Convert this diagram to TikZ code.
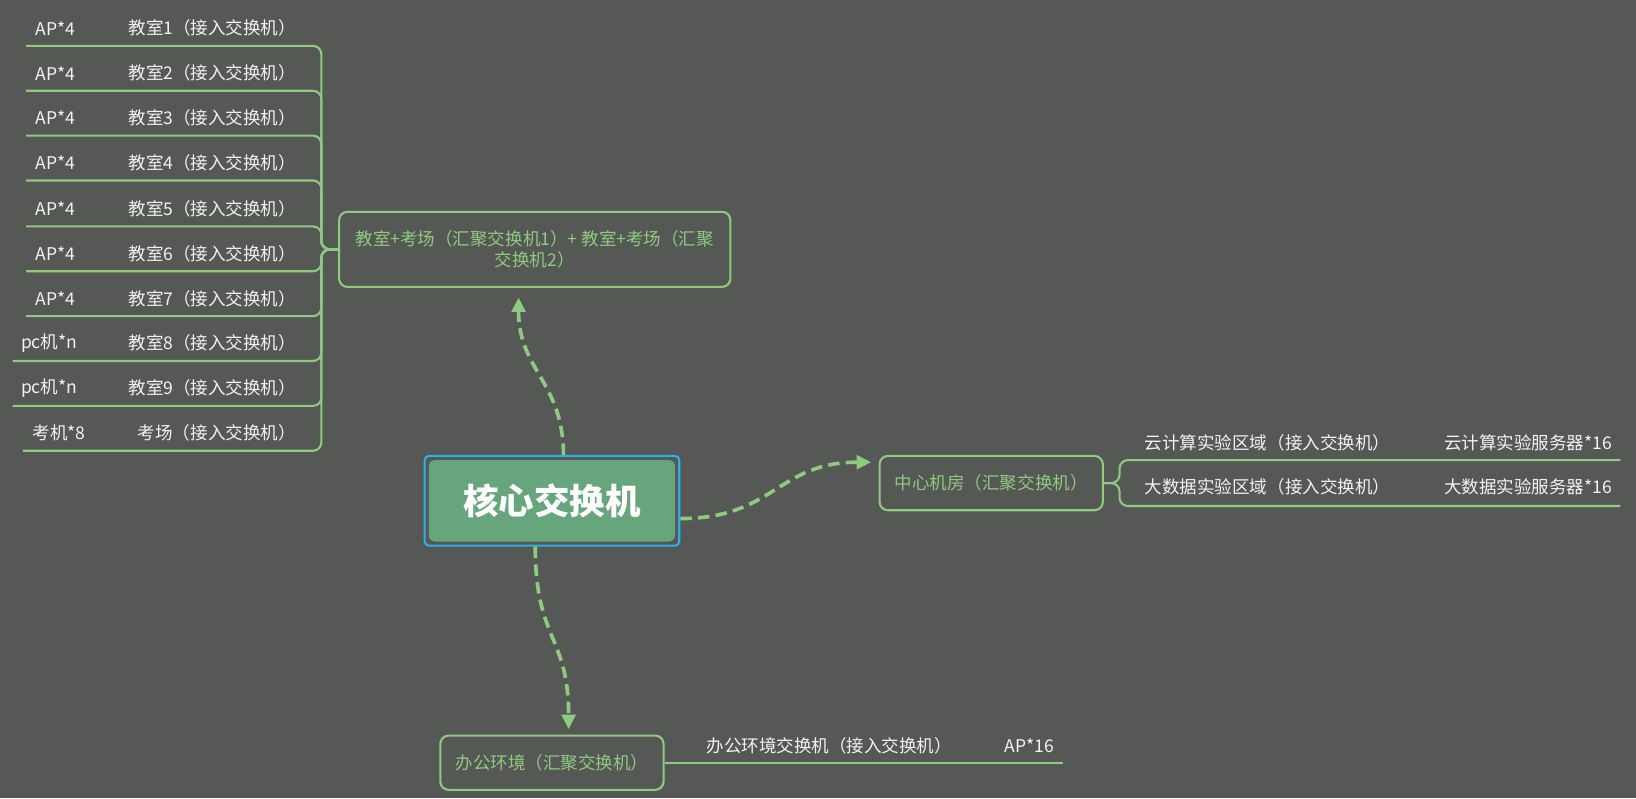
\documentclass[tikz,border=0pt]{standalone}
\usepackage{fontspec}
\setmainfont{Noto Sans CJK SC}
\usetikzlibrary{arrows.meta}
\definecolor{bg}{RGB}{86,88,85}
\definecolor{lg}{RGB}{142,203,128}
\definecolor{wt}{RGB}{242,242,242}
\definecolor{corefill}{RGB}{103,166,124}
\definecolor{coreblue}{RGB}{41,177,236}
\begin{document}
\begin{tikzpicture}[x=1pt,y=-1pt,
  branch/.style={draw=lg, line width=2pt, rounded corners=8pt},
  lbl/.style={anchor=west, inner sep=0pt, text=wt, font=\fontsize{16.8}{19}\selectfont},
  gbox/.style={draw=lg, line width=2pt, rounded corners=8pt, fill=bg, text=lg,
    font=\fontsize{16.8}{21}\selectfont, align=center, inner sep=0pt},
  coresty/.style={draw=coreblue, line width=2pt, rounded corners=4pt, minimum width=244pt,
    minimum height=86pt, inner sep=0pt, text=white, font=\fontsize{34}{36}\selectfont\bfseries},
  dasharrow/.style={draw=lg, line width=3.5pt, dash pattern=on 11pt off 6pt,
    -{Triangle[length=14pt,width=13pt]}}]
\fill[bg] (0,0) rectangle (1568,765);
\useasboundingbox (0,0) rectangle (1568,765);

% left parent box
\node[gbox, minimum width=375pt, minimum height=72pt] (pb) at (512.5,239)
  {教室+考场（汇聚交换机1）+ 教室+考场（汇聚\\交换机2）};
\coordinate (lj) at (308,239);
\foreach \i/\y/\xs/\xa/\a/\b in {
  1/44/25/34/AP*4/教室1（接入交换机）,
  2/87/25/34/AP*4/教室2（接入交换机）,
  3/130/25/34/AP*4/教室3（接入交换机）,
  4/173/25/34/AP*4/教室4（接入交换机）,
  5/217/25/34/AP*4/教室5（接入交换机）,
  6/260/25/34/AP*4/教室6（接入交换机）,
  7/303/25/34/AP*4/教室7（接入交换机）,
  8/346/12/20/pc机*n/教室8（接入交换机）,
  9/389/12/20/pc机*n/教室9（接入交换机）}{
  \coordinate (r\i) at (\xs,\y);
  \draw[branch] (pb.west) -- (lj) |- (r\i);
  \node[lbl] (a\i) at (\xa,\y-17) {\a};
  \node[lbl] (b\i) at (123,\y-17) {\b};
}
\coordinate (r10) at (22,432);
\draw[branch] (pb.west) -- (lj) |- (r10);
\node[lbl] (a10) at (31,415) {考机*8};
\node[lbl] (b10) at (132,415) {考场（接入交换机）};

% core
\fill[corefill, rounded corners=6pt] (411,441) rectangle (647,519);
\node[coresty] (core) at (529,480) {核心交换机};

% centre room
\node[gbox, minimum width=214pt, minimum height=52pt] (cr) at (950,463) {中心机房（汇聚交换机）};
\coordinate (rj) at (1073,463);
\coordinate (c1) at (1553,441);
\coordinate (c2) at (1553,485);
\draw[branch] (cr.east) -- (rj) |- (c1);
\draw[branch] (cr.east) -- (rj) |- (c2);
\node[lbl] (c1a) at (1097,424) {云计算实验区域（接入交换机）};
\node[lbl] (c1b) at (1384,424) {云计算实验服务器*16};
\node[lbl] (c2a) at (1097,467) {大数据实验区域（接入交换机）};
\node[lbl] (c2b) at (1384,467) {大数据实验服务器*16};

% office
\node[gbox, minimum width=214pt, minimum height=52pt] (ob) at (529,731) {办公环境（汇聚交换机）};
\coordinate (o1) at (1019,731);
\draw[branch] (ob.east) -- (o1);
\node[lbl] (o1a) at (677,715) {办公环境交换机（接入交换机）};
\node[lbl] (o1b) at (963,715) {AP*16};

% dashed arrows
\draw[dasharrow] ([xshift=11pt]core.north) .. controls +(0,-70) and +(0,70) .. ([xshift=-15.5pt,yshift=-9pt]pb.south);
\draw[dasharrow] ([yshift=-17pt]core.east) .. controls +(90,0) and +(-90,0) .. ([xshift=-7pt,yshift=20pt]cr.west);
\draw[dasharrow] ([xshift=-16pt]core.south) .. controls +(0,90) and +(0,-90) .. ([xshift=16pt,yshift=5pt]ob.north);
\end{tikzpicture}
\end{document}
